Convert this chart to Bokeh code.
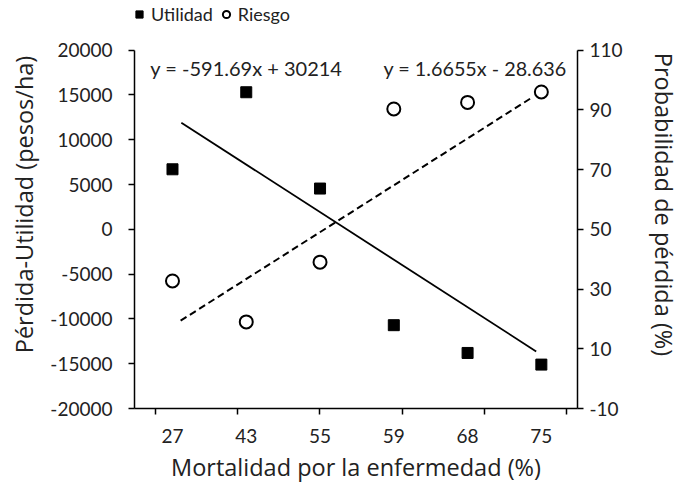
from bokeh.plotting import figure
from bokeh.models import Range1d, LinearAxis, FixedTicker, Legend, LegendItem
from bokeh.core.properties import value
from bokeh.embed import file_html
from bokeh.resources import INLINE

# ---- data ----
mortalidad = ["27", "43", "55", "59", "68", "75"]
utilidad = [6700, 15300, 4550, -10700, -13800, -15100]
riesgo = [32.7, 19.0, 39.0, 90.3, 92.5, 96.0]
trend_util_x = [1.12, 5.93]
trend_util_y = [11900, -13630]
trend_riesgo_x = [1.11, 5.89]
trend_riesgo_y = [19.4, 94.4]
eq_util = "y = -591.69x + 30214"
eq_riesgo = "y = 1.6655x - 28.636"
left_ticks = list(range(-20000, 20001, 5000))
right_ticks = list(range(-10, 111, 20))

xs = list(range(1, len(mortalidad) + 1))

TICK_FONT = "Lato"
TITLE_FONT = "Open Sans"
TXT = "#222222"
TITLE_SIZE = "23.5px"

# plot frame reaches the top of the canvas so that the legend is inside it;
# the axes are bounded to the data span
AXIS_PX = 361   # pixel height of the axis span
TOP_PX = 50     # free pixels above the axis span
lmin, lmax = left_ticks[0], left_ticks[-1]
rmin, rmax = right_ticks[0], right_ticks[-1]
l_top = lmax + (lmax - lmin) * TOP_PX / AXIS_PX
r_top = rmax + (rmax - rmin) * TOP_PX / AXIS_PX

p = figure(width=685, height=485, x_range=Range1d(0.485, 6.49),
           y_range=Range1d(lmin, l_top),
           output_backend="svg", toolbar_location=None,
           min_border_left=134, min_border_right=108,
           min_border_top=0, min_border_bottom=74)
p.outline_line_color = None
p.xgrid.visible = False
p.ygrid.visible = False

p.extra_y_ranges = {"right": Range1d(rmin, r_top)}

# x axis
xa = p.xaxis[0]
xa.ticker = FixedTicker(ticks=xs, minor_ticks=[0.77 + 1.114 * k for k in range(6)])
xa.major_label_overrides = {x: m for x, m in zip(xs, mortalidad)}
xa.major_tick_out = 0
xa.major_tick_in = 0
xa.minor_tick_out = 6
xa.minor_tick_in = 0
xa.minor_tick_line_color = "black"
xa.minor_tick_line_width = 1.5
xa.axis_line_color = "black"
xa.axis_line_width = 1.5
xa.major_label_standoff = 14
xa.major_label_text_font = TICK_FONT
xa.major_label_text_font_size = "19px"
xa.major_label_text_color = TXT
xa.axis_label = "Mortalidad por la enfermedad (%)"
xa.axis_label_text_font = TITLE_FONT
xa.axis_label_text_font_size = TITLE_SIZE
xa.axis_label_text_font_style = "normal"
xa.axis_label_text_color = TXT
xa.axis_label_standoff = 5

# left axis
ya = p.yaxis[0]
ya.bounds = (lmin, lmax)
ya.ticker = FixedTicker(ticks=left_ticks)
ya.major_label_overrides = {t: str(t) for t in left_ticks}
ya.major_tick_out = 6
ya.major_tick_in = 0
ya.minor_tick_line_color = None
ya.major_tick_line_width = 1.5
ya.axis_line_width = 1.5
ya.major_label_standoff = 16
ya.major_label_text_font = TICK_FONT
ya.major_label_text_font_size = "19px"
ya.major_label_text_color = TXT
ya.axis_label = "Pérdida-Utilidad (pesos/ha)"
ya.axis_label_text_font = TITLE_FONT
ya.axis_label_text_font_size = TITLE_SIZE
ya.axis_label_text_font_style = "normal"
ya.axis_label_text_color = TXT
ya.axis_label_standoff = 7

# right axis
ra = LinearAxis(y_range_name="right", ticker=FixedTicker(ticks=right_ticks),
                bounds=(rmin, rmax))
ra.major_label_overrides = {t: str(t) for t in right_ticks}
ra.major_tick_out = 6
ra.major_tick_in = 0
ra.minor_tick_line_color = None
ra.major_tick_line_width = 1.5
ra.axis_line_width = 1.5
ra.major_label_standoff = 6
ra.major_label_text_font = TICK_FONT
ra.major_label_text_font_size = "19px"
ra.major_label_text_color = TXT
ra.axis_label = "Probabilidad de pérdida (%)"
ra.axis_label_text_font = TITLE_FONT
ra.axis_label_text_font_size = TITLE_SIZE
ra.axis_label_text_font_style = "normal"
ra.axis_label_text_color = TXT
ra.axis_label_standoff = 22
p.add_layout(ra, "right")

# trend lines
p.line(trend_util_x, trend_util_y, line_color="black", line_width=1.8)
p.line(trend_riesgo_x, trend_riesgo_y, line_color="black", line_width=2,
       line_dash="7 4", y_range_name="right")

# points
r_u = p.scatter(xs, utilidad, marker="square", size=11, fill_color="black",
                line_color="black")
r_r = p.scatter(xs, riesgo, marker="circle", size=13, fill_color="white",
                line_color="black", line_width=2, y_range_name="right")

# equations
p.text(x=[0.70], y=[18000], text=[eq_util], text_font=value(TICK_FONT),
       text_font_size="20px", text_baseline="middle", text_color=TXT)
p.text(x=[3.86], y=[104], text=[eq_riesgo], text_font=value(TICK_FONT),
       text_font_size="19.8px", text_baseline="middle", text_color=TXT,
       y_range_name="right")

legend = Legend(items=[LegendItem(label="Utilidad", renderers=[r_u]),
                       LegendItem(label="Riesgo", renderers=[r_r])],
                orientation="horizontal", location=(-4, 382),
                border_line_color=None, background_fill_alpha=0,
                label_text_font=TICK_FONT, label_text_font_size="18px",
                label_text_color=TXT,
                glyph_width=18, glyph_height=24, label_standoff=3,
                spacing=4, padding=0, margin=0)
p.add_layout(legend, "center")

open("out.html", "w").write(file_html(p, INLINE))
